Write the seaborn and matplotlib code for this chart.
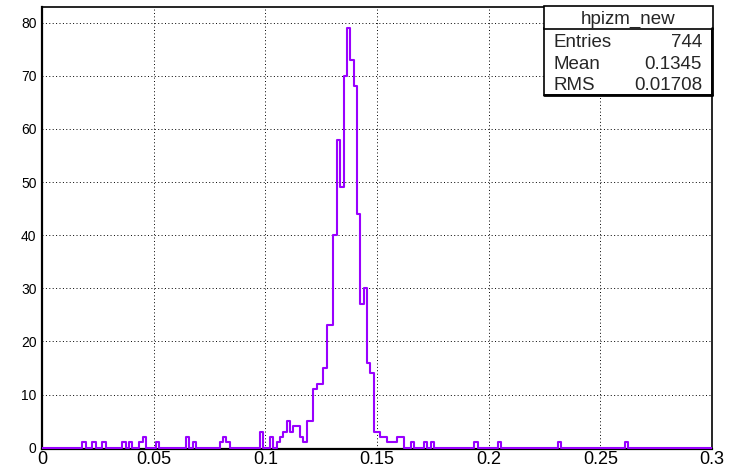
import numpy as np
import pandas as pd
import matplotlib
matplotlib.use("Agg")
import matplotlib.pyplot as plt
from matplotlib.patches import Rectangle
from matplotlib.ticker import MultipleLocator, FuncFormatter
import seaborn as sns

# ── data: histogram hpizm_new, 200 bins over [0, 0.3], only non-empty bins listed
n_bins = 200
x_range = (0.0, 0.3)
bin_index = [12, 15, 18, 24, 26, 29, 30, 34, 43, 45, 53, 54, 55,
             65, 68, 70, 71, 72, 73, 74, 75, 76, 77, 78, 79, 80,
             81, 82, 83, 84, 85, 86, 87, 88, 89, 90, 91, 92, 93, 94, 95, 96, 97, 98,
             99, 100, 101, 102, 103, 104, 105, 106, 107,
             110, 114, 116, 129, 136, 154, 174]
bin_count = [1, 1, 1, 1, 1, 1, 2, 1, 2, 1, 1, 2, 1,
             3, 2, 1, 2, 3, 5, 3, 4, 4, 2, 1, 5, 5,
             11, 12, 12, 15, 23, 23, 40, 58, 49, 70, 79, 73, 68, 44, 27, 30, 16, 14,
             3, 3, 2, 2, 1, 1, 1, 2, 2,
             1, 1, 1, 1, 1, 1, 1]
stats_title = "hpizm_new"
stats_rows = [("Entries", "744"), ("Mean", "0.1345"), ("RMS", "0.01708")]

LINE = "#9900ff"
W, H = 736, 470

sns.set_style("white")
plt.rcParams['font.family'] = ['Liberation Sans', 'DejaVu Sans']

edges = np.linspace(x_range[0], x_range[1], n_bins + 1)
half = (edges[1] - edges[0]) / 2
df = pd.DataFrame({"mass": edges[bin_index] + half, "count": bin_count})

fig = plt.figure(figsize=(W / 100, H / 100), dpi=100)
ax = fig.add_axes([42 / W, 1 - 449 / H, (712 - 42) / W, (449 - 7) / H])

sns.histplot(data=df, x="mass", weights="count", bins=n_bins, binrange=x_range,
             element="step", fill=False, color=LINE, linewidth=1.5, ax=ax,
             zorder=3)

ax.set_xlim(*x_range)
ax.set_ylim(-0.25, 1.05 * max(bin_count))
ax.set_xlabel("")
ax.set_ylabel("")

# ROOT-like axes
ax.xaxis.set_major_locator(MultipleLocator(0.05))
ax.xaxis.set_minor_locator(MultipleLocator(0.01))
ax.yaxis.set_major_locator(MultipleLocator(10))
ax.yaxis.set_minor_locator(MultipleLocator(2))
ax.xaxis.set_major_formatter(FuncFormatter(lambda v, p: f"{v:g}"))
ax.yaxis.set_major_formatter(FuncFormatter(lambda v, p: f"{v:g}"))
ax.tick_params(axis='x', which='major', direction='in', length=9.5, width=0.8,
               labelsize=13, pad=1.5, colors='black')
ax.tick_params(axis='x', which='minor', direction='in', length=4.7, width=0.8)
ax.tick_params(axis='y', which='major', direction='in', length=12, width=0.8,
               labelsize=10, pad=4, colors='black')
ax.tick_params(axis='y', which='minor', direction='in', length=6, width=0.8)
for s in ax.spines.values():
    s.set_color('black')
    s.set_linewidth(1.2)
ax.spines['left'].set_linewidth(1.6)
ax.spines['bottom'].set_linewidth(1.6)

ax.grid(True, which='major', color='black', linestyle=(0, (1, 2.5)), linewidth=0.7)
ax.set_axisbelow(True)


# ── stats box (pixel coordinates of the picture)
def fx(x):
    return x / W


def fy(y):
    return 1 - y / H


fig.add_artist(Rectangle((fx(544), fy(95)), fx(711.5) - fx(544), fy(28) - fy(95),
                         transform=fig.transFigure, facecolor='white',
                         edgecolor='black', linewidth=1.2))
fig.add_artist(plt.Line2D([fx(711.5), fx(711.5)], [fy(95), fy(28)],
                          transform=fig.transFigure, color='black', linewidth=2))
fig.add_artist(plt.Line2D([fx(544), fx(711.5)], [fy(95), fy(95)],
                          transform=fig.transFigure, color='black', linewidth=2))
fig.add_artist(Rectangle((fx(544), fy(29)), fx(712.5) - fx(544), fy(6) - fy(29),
                         transform=fig.transFigure, facecolor='white',
                         edgecolor='black', linewidth=1.2))
fig.text(fx(628), fy(23.5), stats_title, ha='center', va='baseline', fontsize=13.5)
for (label, value), base in zip(stats_rows, [46.7, 69, 90]):
    fig.text(fx(553.5), fy(base), label, ha='left', va='baseline', fontsize=13.5)
    fig.text(fx(702), fy(base), value, ha='right', va='baseline', fontsize=13.5)

fig.savefig("out.png", dpi=100)
